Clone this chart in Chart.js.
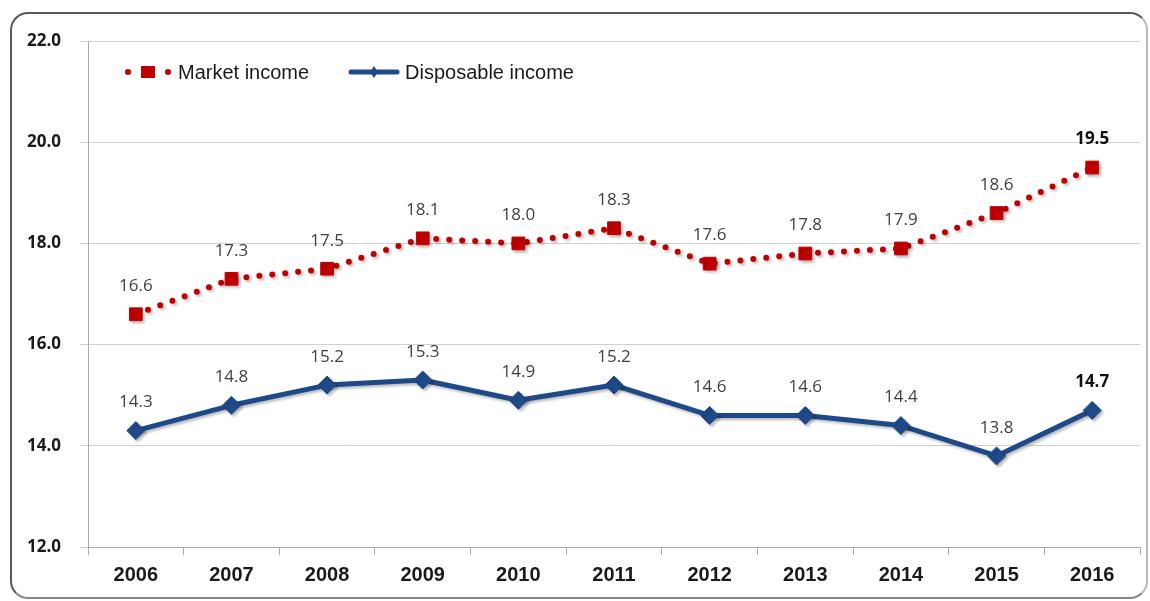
<!DOCTYPE html>
<html>
<head>
<meta charset="utf-8">
<script src="https://cdn.jsdelivr.net/npm/chart.js@4/dist/chart.umd.min.js"></script>
<style>
  html, body { margin: 0; padding: 0; background: #fff; }
  #frame { position: absolute; left: 10px; top: 12px; width: 1134px; height: 583px;
           border: 2px solid #5a5a5a; border-radius: 18px; border-right-color: #bbb; border-bottom-color: #888; }
  #chart { position: absolute; left: 0; top: 0; }
</style>
</head>
<body>
<div id="frame"></div>
<canvas id="chart" width="1150" height="601"></canvas>
<script>
// datos del gráfico
const years = ['2006', '2007', '2008', '2009', '2010', '2011', '2012', '2013', '2014', '2015', '2016'];
const marketIncome = [16.6, 17.3, 17.5, 18.1, 18.0, 18.3, 17.6, 17.8, 17.9, 18.6, 19.5];
const disposableIncome = [14.3, 14.8, 15.2, 15.3, 14.9, 15.2, 14.6, 14.6, 14.4, 13.8, 14.7];
const yTicks = [12, 14, 16, 18, 20, 22];

const RED = '#c00000';
const BLUE = '#1f4a8a';

// sombra suave bajo las líneas
const shadowPlugin = {
  id: 'shadow',
  beforeDatasetsDraw(chart) {
    const c = chart.ctx;
    c.save();
    c.shadowColor = 'rgba(0,0,0,0.28)';
    c.shadowBlur = 3;
    c.shadowOffsetX = 2;
    c.shadowOffsetY = 2;
  },
  afterDatasetsDraw(chart) {
    chart.ctx.restore();
  }
};

// etiquetas de valores sobre los puntos
const valueLabels = {
  id: 'valueLabels',
  afterDatasetsDraw(chart) {
    const c = chart.ctx;
    c.save();
    c.textAlign = 'center';
    c.textBaseline = 'middle';
    chart.data.datasets.forEach((ds, i) => {
      const meta = chart.getDatasetMeta(i);
      meta.data.forEach((pt, j) => {
        const last = j === ds.data.length - 1;
        c.font = (last ? 'bold ' : '') + '17px "Open Sans"';
        c.fillStyle = last ? '#111' : '#404040';
        c.fillText(ds.data[j].toFixed(1), pt.x, pt.y - 28);
      });
    });
    c.restore();
  }
};

// leyenda dibujada a mano (línea + marcador)
const customLegend = {
  id: 'customLegend',
  afterDraw(chart) {
    const c = chart.ctx;
    const y = 72;
    c.save();
    // Market income
    c.fillStyle = RED;
    [128, 168].forEach(x => { c.beginPath(); c.arc(x, y, 3, 0, Math.PI * 2); c.fill(); });
    c.fillRect(141, y - 6, 14, 12);
    // Disposable income
    c.strokeStyle = BLUE;
    c.lineWidth = 5;
    c.lineCap = 'round';
    c.beginPath(); c.moveTo(351, y); c.lineTo(397, y); c.stroke();
    c.fillStyle = BLUE;
    c.beginPath(); c.moveTo(374, y - 6); c.lineTo(378, y); c.lineTo(374, y + 6); c.lineTo(370, y); c.closePath(); c.fill();
    c.font = '20px "Liberation Sans"';
    c.fillStyle = '#1a1a1a';
    c.textBaseline = 'middle';
    c.fillText('Market income', 178, y + 1);
    c.fillText('Disposable income', 405, y + 1);
    c.restore();
  }
};

const ctx = document.getElementById('chart');
const chart = new Chart(ctx, {
  type: 'line',
  data: {
    labels: years,
    datasets: [
      {
        label: 'Market income',
        data: marketIncome,
        borderColor: RED,
        backgroundColor: RED,
        borderWidth: 6,
        borderDash: [0, 13],
        borderCapStyle: 'round',
        pointStyle: 'rect',
        pointRadius: 9,
        pointHoverRadius: 9,
        pointBorderWidth: 1,
        tension: 0
      },
      {
        label: 'Disposable income',
        data: disposableIncome,
        borderColor: BLUE,
        backgroundColor: BLUE,
        borderWidth: 5,
        borderJoinStyle: 'round',
        pointStyle: 'rectRot',
        pointRadius: 9,
        pointHoverRadius: 9,
        pointBorderWidth: 1,
        tension: 0
      }
    ]
  },
  options: {
    responsive: false,
    animation: false,
    layout: { padding: { top: 41, right: 10, left: 0, bottom: 0 } },
    plugins: {
      legend: { display: false },
      tooltip: { enabled: false }
    },
    scales: {
      x: {
        offset: true,
        afterFit(scale) { scale.height = 54; },
        grid: { offset: true, drawOnChartArea: false, drawTicks: true, tickLength: 8, color: '#aaa' },
        border: { color: '#aaa', width: 1 },
        ticks: {
          color: '#1a1a1a',
          padding: 8,
          font: { family: '"Liberation Sans Narrow", "Liberation Sans"', size: 20, weight: 'bold' }
        }
      },
      y: {
        min: 12,
        max: 22,
        afterFit(scale) { scale.width = 88; },
        afterBuildTicks(scale) { scale.ticks = yTicks.map(v => ({ value: v })); },
        grid: { color: '#d0d0d0', tickLength: 8, lineWidth: 1 },
        border: { color: '#aaa', width: 1 },
        ticks: {
          color: '#1a1a1a',
          padding: 19,
          font: { family: '"Open Sans"', size: 17, weight: 'bold' },
          callback: v => Number(v).toFixed(1)
        }
      }
    }
  },
  plugins: [shadowPlugin, valueLabels, customLegend]
});
</script>
</body>
</html>
